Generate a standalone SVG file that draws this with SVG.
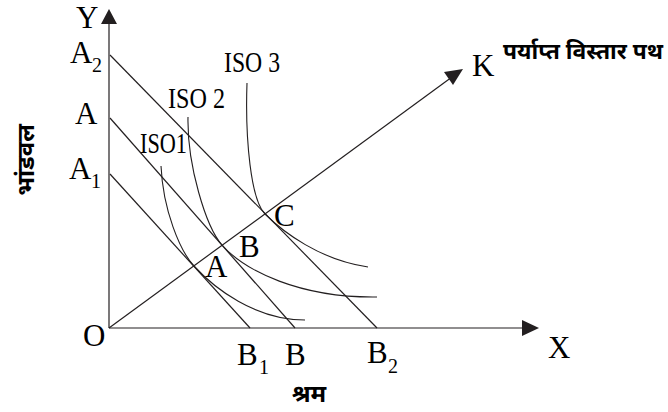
<svg xmlns="http://www.w3.org/2000/svg" width="668" height="412" viewBox="0 0 668 412">
<style>
.ln{fill:none;stroke:#231f20;stroke-width:1.2}
.cv{fill:none;stroke:#231f20;stroke-width:1.1}
.ah{fill:#231f20;stroke:none}
.lb{font-family:"Liberation Serif","Times New Roman",serif;font-size:31px;fill:#000}
.sb{font-family:"Liberation Serif","Times New Roman",serif;font-size:20px;fill:#000}
.iso{font-family:"Liberation Serif","Times New Roman",serif;font-size:29px;fill:#000}
.hi{font-family:"Noto Sans Devanagari","Noto Sans","Lohit Devanagari",sans-serif;font-weight:bold;fill:#000}
</style>
<rect width="668" height="412" fill="#fff"/>
<g id="connectors">
  <line class="ln" x1="109" y1="328" x2="109" y2="20"/>
  <polygon class="ah" points="109,9 101,24 117,24"/>
  <line class="ln" x1="109" y1="328" x2="525" y2="328"/>
  <polygon class="ah" points="539,328 522,320 522,336"/>
  <line class="ln" x1="109" y1="328" x2="452" y2="77"/>
  <polygon class="ah" points="463,69 444,72 453,85"/>
  <line class="ln" x1="110" y1="55" x2="377" y2="328"/>
  <line class="ln" x1="110" y1="118" x2="295" y2="328"/>
  <line class="ln" x1="110" y1="174" x2="250" y2="328"/>
</g>
<g id="iso1">
  <path class="cv" d="M161,166 C163,210 180,251 194,266 C214,288 255,320 305,320"/>
  <text class="iso" x="140" y="153" textLength="47" lengthAdjust="spacingAndGlyphs">ISO1</text>
</g>
<g id="iso2">
  <path class="cv" d="M188,117 C187,165 206,227 222,245 C245,271 300,298 377,297"/>
  <text class="iso" x="168" y="108" textLength="57" lengthAdjust="spacingAndGlyphs">ISO 2</text>
</g>
<g id="iso3">
  <path class="cv" d="M247,83 C245,140 251,200 265,214 C283,232 320,260 368,267"/>
  <text class="iso" x="224" y="72" textLength="56" lengthAdjust="spacingAndGlyphs">ISO 3</text>
</g>
<g id="labels">
  <text class="lb" x="76" y="28">Y</text>
  <text class="lb" x="70" y="63">A</text><text class="sb" x="92" y="72">2</text>
  <text class="lb" x="75" y="124">A</text>
  <text class="lb" x="69" y="179">A</text><text class="sb" x="91" y="188">1</text>
  <text class="lb" x="83" y="346">O</text>
  <text class="lb" x="237" y="365">B</text><text class="sb" x="259" y="374">1</text>
  <text class="lb" x="285" y="365">B</text>
  <text class="lb" x="367" y="363">B</text><text class="sb" x="388" y="373">2</text>
  <text class="lb" x="548" y="358">X</text>
  <text class="lb" x="472" y="76">K</text>
  <text class="lb" x="205" y="277">A</text>
  <text class="lb" x="239" y="257">B</text>
  <text class="lb" x="274" y="226">C</text>
  <text class="hi" x="503" y="59" font-size="23" textLength="160" lengthAdjust="spacingAndGlyphs">पर्याप्त विस्तार पथ</text>
  <text class="hi" x="309" y="402" font-size="24" text-anchor="middle">श्रम</text>
  <text class="hi" transform="translate(34,160) rotate(-90)" font-size="24" text-anchor="middle">भांडवल</text>
</g>
</svg>
